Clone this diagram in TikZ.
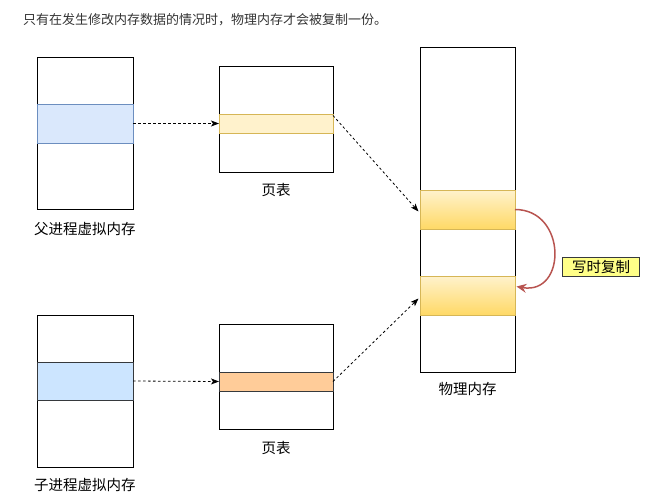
\documentclass[tikz,border=0pt]{standalone}
\usepackage{fontspec}
\setmainfont{Noto Sans CJK SC}
\usetikzlibrary{arrows.meta}
\definecolor{bluefill}{HTML}{DAE8FC}
\definecolor{bluestroke}{HTML}{6C8EBF}
\definecolor{blue2}{HTML}{CCE5FF}
\definecolor{darkstroke}{HTML}{36393D}
\definecolor{yelfill}{HTML}{FFF2CC}
\definecolor{yelstroke}{HTML}{D6B656}
\definecolor{yeldark}{HTML}{FFD966}
\definecolor{orangefill}{HTML}{FFCC99}
\definecolor{redarrow}{HTML}{B85450}
\definecolor{notefill}{HTML}{FFFF88}
\definecolor{txtgray}{HTML}{333333}
\tikzset{
  memrect/.style={draw=black, line width=0.7pt, fill=white, inner sep=0pt, outer sep=0pt},
  band/.style={inner sep=0pt, outer sep=0pt, line width=0.7pt},
  lbl/.style={font=\fontsize{14.5}{16}\selectfont, text=black, inner sep=0pt},
  dasharrow/.style={dashed, dash pattern=on 2.5pt off 2.5pt, line width=0.8pt, -{Stealth[length=8pt,width=6pt,inset=2pt]}},
  cowarrow/.style={draw=redarrow, line width=1.5pt, -{Stealth[length=10pt,width=9pt,inset=3.5pt]}},
}
\begin{document}
\begin{tikzpicture}[x=1pt,y=-1pt]
\useasboundingbox (0,0) rectangle (664,499);
% title
\node[anchor=west, inner sep=0pt, text=txtgray, font=\fontsize{13}{15}\selectfont] (title) at (23,20) {只有在发生修改内存数据的情况时，物理内存才会被复制一份。};

% parent virtual memory
\node[memrect, minimum width=96pt, minimum height=152pt] (pvm) at (85,133) {};
\node[band, draw=bluestroke, fill=bluefill, minimum width=96pt, minimum height=39pt] (pvb) at (85,123.5) {};
\node[lbl] (pvmlabel) at (85,229) {父进程虚拟内存};

% parent page table
\node[memrect, minimum width=114pt, minimum height=106pt] (pt1) at (276,119) {};
\node[band, draw=yelstroke, fill=yelfill, minimum width=114pt, minimum height=19pt] (pt1b) at (276,123.5) {};
\node[lbl] (pt1label) at (276,190) {页表};

% physical memory
\node[memrect, minimum width=95pt, minimum height=325pt] (phys) at (467.5,209.5) {};
\node[band, draw=yelstroke, top color=yelfill, bottom color=yeldark, minimum width=95pt, minimum height=39pt] (pb1) at (467.5,209.5) {};
\node[band, draw=yelstroke, top color=yelfill, bottom color=yeldark, minimum width=95pt, minimum height=39pt] (pb2) at (467.5,295.5) {};
\node[lbl] (physlabel) at (467.5,389) {物理内存};

% child virtual memory
\node[memrect, minimum width=96pt, minimum height=152pt] (cvm) at (85,391) {};
\node[band, draw=darkstroke, fill=blue2, minimum width=96pt, minimum height=38pt] (cvb) at (85,381) {};
\node[lbl] (cvmlabel) at (85,485) {子进程虚拟内存};

% child page table
\node[memrect, minimum width=114pt, minimum height=105pt] (pt2) at (276,376.5) {};
\node[band, draw=darkstroke, fill=orangefill, minimum width=114pt, minimum height=19pt] (pt2b) at (276,381.5) {};
\node[lbl] (pt2label) at (276,448) {页表};

% copy-on-write label
\node[draw=darkstroke, fill=notefill, line width=0.6pt, minimum width=77pt, minimum height=19pt, inner sep=0pt, font=\fontsize{14.5}{16}\selectfont] (cow) at (601,267) {写时复制};

% connectors
\draw[dasharrow] (pvb.east) -- (pt1b.west);
\draw[dasharrow] ([yshift=-1.5pt]pt1b.north east) -- ([xshift=-1.5pt,yshift=-2pt]pb1.west);
\draw[dasharrow] (cvb.east) -- (pt2b.west);
\draw[dasharrow] (pt2b.east) -- ([xshift=-1.5pt,yshift=-3pt]pb2.west);
\draw[cowarrow] (pb1.east) .. controls ([xshift=52pt]pb1.east) and ([xshift=52pt]pb2.east) .. ([xshift=1.5pt,yshift=9pt]pb2.east);
\end{tikzpicture}
\end{document}
